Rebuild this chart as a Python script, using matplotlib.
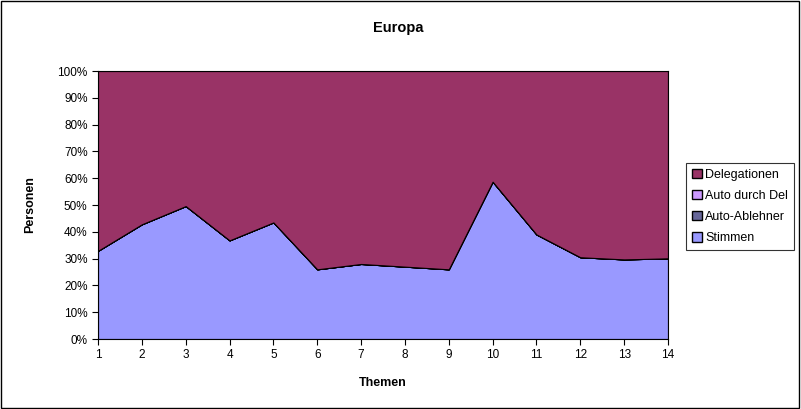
import numpy as np
import matplotlib.pyplot as plt
from matplotlib.patches import Rectangle, Patch

themen = list(range(1, 15))
# Anteile in Prozent
stimmen = [32.9, 42.8, 49.6, 36.8, 43.5, 26.0, 28.0, 27.0, 26.0, 58.7, 39.0, 30.5, 29.7, 30.1]
auto_ablehner = [0.0] * 14
auto_durch_del = [0.0] * 14
delegationen = [100 - s for s in stimmen]

namen = ['Stimmen', 'Auto-Ablehner', 'Auto durch Del', 'Delegationen']
farben = ['#9999ff', '#666699', '#cc99ff', '#993366']

plt.rcParams['font.family'] = ['Liberation Sans', 'DejaVu Sans']

fig = plt.figure(figsize=(8.01, 4.09), dpi=100)
ax = fig.add_axes([98 / 801, 1 - 339 / 409, 570 / 801, 268 / 409])

ax.stackplot(themen, stimmen, auto_ablehner, auto_durch_del, delegationen,
             colors=farben, edgecolor='black', linewidth=0.8)

ax.set_xlim(1, 14)
ax.set_ylim(0, 100)
ax.set_xticks(themen)
ax.set_yticks(np.arange(0, 101, 10))
ax.set_yticklabels([f'{v}%' for v in range(0, 101, 10)])
ax.tick_params(labelsize=8.5, length=4, width=0.8, direction='out')
for s in ax.spines.values():
    s.set_linewidth(0.8)

ax.set_xlabel('Themen', fontsize=9, fontweight='bold', labelpad=11)
ax.set_ylabel('Personen', fontsize=9, fontweight='bold', labelpad=15)
fig.text(398 / 801, 1 - 28 / 409, 'Europa', ha='center', va='center',
         fontsize=10.5, fontweight='bold')

handles = [Patch(facecolor=farben[i], edgecolor='black', label=namen[i]) for i in [3, 2, 1, 0]]
leg = fig.legend(handles=handles, loc='upper left', bbox_to_anchor=(686 / 801, 1 - 163 / 409),
                 fontsize=9, frameon=True, fancybox=False, edgecolor='black',
                 handlelength=0.8, handleheight=0.8, handletextpad=0.3,
                 borderpad=0.45, labelspacing=0.72, borderaxespad=0)
leg.get_frame().set_linewidth(0.8)

fig.patches.append(Rectangle((0.001, 0.002), 0.997, 0.995, transform=fig.transFigure,
                             fill=False, edgecolor='black', linewidth=1))

fig.savefig('out.png', dpi=100)
